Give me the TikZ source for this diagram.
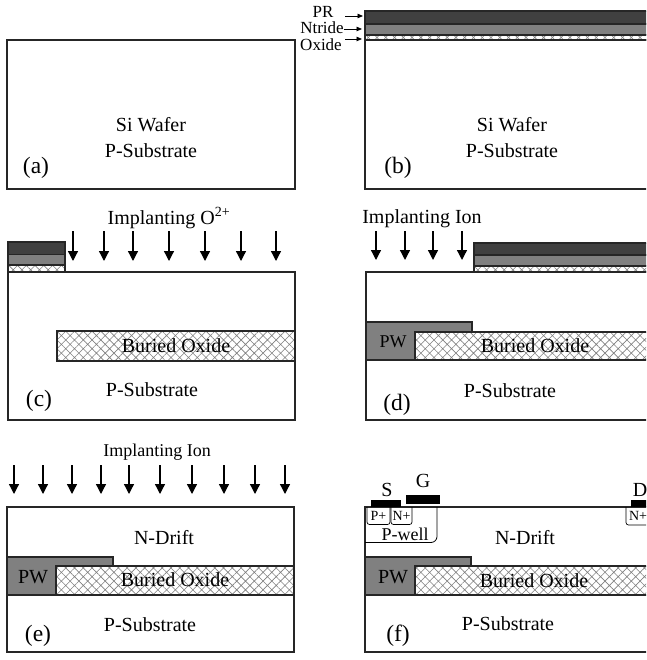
\documentclass[tikz,border=0pt]{standalone}
\usepackage{fontspec}
\setmainfont{Liberation Serif}
\usetikzlibrary{arrows.meta,patterns.meta}

\tikzset{
	wafer/.style={draw=black!85, line width=1.3pt},
	prlayer/.style={draw=black!85, line width=1.1pt, fill=black!75},
	ntlayer/.style={draw=black!85, line width=1.1pt, fill=black!50},
	oxlayer/.style={draw=black!85, line width=1.2pt, preaction={fill=white}, pattern={Hatch[angle=45,distance=6.2pt,line width=0.6pt]}, pattern color=black!50},
	pwell/.style={draw=black!85, line width=1.2pt, fill=black!50},
	metal/.style={fill=black},
	implant/.style={-{Triangle[length=10pt,width=10pt]}, line width=1.3pt},
	pointer/.style={-{Triangle[length=5.5pt,width=4.5pt]}, line width=0.8pt},
	txt/.style={font=\fontsize{20}{22}\selectfont, inner sep=0pt},
	midtxt/.style={font=\fontsize{18}{20}\selectfont, inner sep=0pt},
	layertxt/.style={font=\fontsize{17}{19}\selectfont, inner sep=0pt},
	smalltxt/.style={font=\fontsize{14}{16}\selectfont, inner sep=0pt},
	figtxt/.style={font=\fontsize{23.5}{25}\selectfont, inner sep=0pt}
}

\begin{document}
\begin{tikzpicture}[x=1pt,y=-1pt,line join=miter]
	\useasboundingbox (0,0) rectangle (646,660);
	\clip (0,0) rectangle (646,660);

	% (a) bare wafer
	\draw[wafer] (7,40) rectangle (295,189);
	\node[txt] (awafer) at (151,124.5) {Si Wafer};
	\node[txt] (asub) at (151,150.5) {P-Substrate};
	\node[figtxt] (alabel) at (36,168) {(a)};

	% (b) wafer with PR, nitride and oxide
	\draw[wafer] (365,40) rectangle (655,189);
	\draw[prlayer] (365,11) rectangle (655,24);
	\draw[ntlayer] (365,24) rectangle (655,35);
	\draw[oxlayer] (365,35) rectangle (655,40);
	\draw[wafer] (365,40) -- (655,40);
	\node[layertxt] (bpr) at (323,12) {PR};
	\node[layertxt] (bnt) at (322,28) {Ntride};
	\node[layertxt] (box) at (321,45) {Oxide};
	\coordinate (bprtip) at (363,16);
	\coordinate (bnttip) at (362,29);
	\coordinate (boxtip) at (362,39);
	\draw[pointer] (345,16) -- (bprtip);
	\draw[pointer] (bnt.east |- bnttip) -- (bnttip);
	\draw[pointer] (345,39) -- (boxtip);
	\node[txt] (bwafer) at (512,124.5) {Si Wafer};
	\node[txt] (bsub) at (512,150.5) {P-Substrate};
	\node[figtxt] (blabel) at (398,168) {(b)};

	% (c) oxygen implant
	\draw[wafer] (8,272) rectangle (295,420);
	\draw[oxlayer] (57,331) rectangle (295,361);
	\draw[prlayer] (8,242) rectangle (65,254.5);
	\draw[ntlayer] (8,254.5) rectangle (65,265);
	\draw[oxlayer] (8,265) rectangle (65,272);
	\node[txt] (cimp) at (169,218) {Implanting O\textsuperscript{2+}};
	\foreach \x in {73,104,133,169,205,241,276}
		\draw[implant] (\x,231) -- (\x,261);
	\node[txt] (cbox) at (176,346) {Buried Oxide};
	\node[txt] (csub) at (152,389.5) {P-Substrate};
	\node[figtxt] (clabel) at (39,401) {(c)};

	% (d) PW implant
	\draw[wafer] (366,272) rectangle (655,420);
	\draw[pwell] (366,322) rectangle (472,360);
	\draw[oxlayer] (415,332) rectangle (655,360);
	\draw[prlayer] (474,243) rectangle (655,255);
	\draw[ntlayer] (474,255) rectangle (655,266);
	\draw[oxlayer] (474,266) rectangle (655,272);
	\node[txt] (dimp) at (422,219) {Implanting Ion};
	\foreach \x in {376,405,433,462}
		\draw[implant] (\x,231) -- (\x,260);
	\node[midtxt] (dpw) at (393,342) {PW};
	\node[txt] (dbox) at (535,346) {Buried Oxide};
	\node[txt] (dsub) at (510,390.5) {P-Substrate};
	\node[figtxt] (dlabel) at (397,405) {(d)};

	% (e) drift implant
	\draw[wafer] (7,507) rectangle (294,652);
	\draw[pwell] (7,557) rectangle (113,595);
	\draw[oxlayer] (56,566) rectangle (294,595);
	\node[midtxt] (eimp) at (157,452) {Implanting Ion};
	\foreach \x in {14,43,72,101,129,160,192,224,255,285}
		\draw[implant] (\x,465) -- (\x,494);
	\node[txt] (edrift) at (164,537.5) {N-Drift};
	\node[txt] (epw) at (33,577) {PW};
	\node[txt] (ebox) at (175,580) {Buried Oxide};
	\node[txt] (esub) at (150,624.5) {P-Substrate};
	\node[figtxt] (elabel) at (38,636) {(e)};

	% (f) finished device
	\draw[wafer] (365,507) rectangle (655,652);
	\draw[pwell] (365,557) rectangle (471,595);
	\draw[oxlayer] (415,566) rectangle (655,595);

	% wells and contacts
	\draw[line width=0.8pt, rounded corners=6pt] (437,507) -- (437,542.5) -- (365,542.5);
	\draw[line width=0.7pt, rounded corners=2.5pt] (367,507) -- (367,524.5) -- (390,524.5) -- (390,507);
	\draw[line width=0.7pt, rounded corners=2.5pt] (391,507) -- (391,524.5) -- (412,524.5) -- (412,507);
	\draw[line width=0.7pt, rounded corners=2.5pt] (626,507) -- (626,525) -- (655,525);
	\fill[metal] (371,500) rectangle (401,506.5);
	\fill[metal] (405.5,495) rectangle (440,504);
	\fill[metal] (631,500) rectangle (655,507);

	\node[txt] (fs) at (387,490) {S};
	\node[txt] (fg) at (423,481) {G};
	\node[txt] (fd) at (640,490) {D};
	\node[smalltxt] (fpp) at (378.5,515.5) {P+};
	\node[smalltxt] (fnp) at (401.5,515.5) {N+};
	\node[smalltxt] (fnd) at (638,516) {N+};
	\node[midtxt] (fwell) at (405,534.5) {P-well};
	\node[txt] (fdrift) at (525,537.5) {N-Drift};
	\node[txt] (fpw) at (393,577) {PW};
	\node[txt] (fbox) at (534,581) {Buried Oxide};
	\node[txt] (fsub) at (508,623.5) {P-Substrate};
	\node[figtxt] (flabel) at (398,636) {(f)};
\end{tikzpicture}
\end{document}
